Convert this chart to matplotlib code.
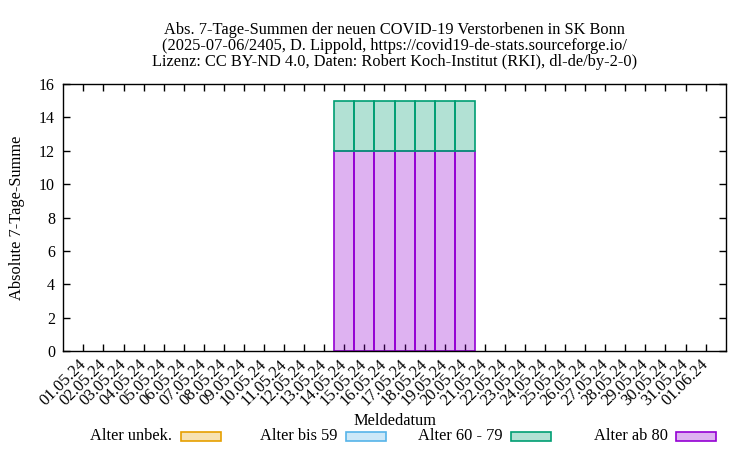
import matplotlib.pyplot as plt
import matplotlib.colors as mcolors
from matplotlib.patches import Rectangle
import numpy as np

plt.rcParams['font.family'] = ['Liberation Serif', 'DejaVu Serif']

# Meldedatum 01.05.24 .. 01.06.24
dates = ['%02d.05.24' % d for d in range(1, 32)] + ['01.06.24']
# 7-Tage-Summen je Altersgruppe
unbek = [0] * 32
bis59 = [0] * 32
a60_79 = [0] * 13 + [3] * 7 + [0] * 12
ab80 = [0] * 13 + [12] * 7 + [0] * 12

labels = ['Alter unbek.', 'Alter bis 59', 'Alter 60 - 79', 'Alter ab 80']
edges = ['#e69f00', '#56b4e9', '#009e73', '#9400d3']

W, H = 750, 450
fig = plt.figure(figsize=(7.5, 4.5), dpi=100)
ax = fig.add_axes([63.3 / W, 1 - 351 / H, (725.7 - 63.3) / W, (351 - 84) / H])

x = np.arange(len(dates))
series = [unbek, bis59, a60_79, ab80]
# stapeln: ab 80 unten, dann 60-79, bis 59, unbek.
cum = np.zeros(len(dates))
bot = {}
for i in [3, 2, 1, 0]:
    bot[i] = cum.copy()
    cum = cum + np.array(series[i])
for i in [0, 1, 2, 3]:
    v = np.array(series[i])
    fc = mcolors.to_rgba(edges[i], 0.3)
    ax.bar(x, v, width=1.0, bottom=bot[i], facecolor=fc,
           edgecolor=edges[i], linewidth=np.where(v > 0, 1.2, 0),
           zorder=2 + (3 - i) * 0.1)

ax.set_xlim(-1, len(dates))
ax.set_ylim(0, 16)
ax.set_yticks(range(0, 17, 2))
ax.set_xticks(x)
ax.set_xticklabels(dates, rotation=45, ha='right', va='center', rotation_mode='anchor', fontsize=12)
ax.tick_params(axis='both', direction='in', top=True, right=True, length=5, width=1)
ax.tick_params(axis='y', labelsize=11.5, pad=6)
ax.tick_params(axis='x', pad=8)
for sp in ax.spines.values():
    sp.set_linewidth(1.0)
    sp.set_zorder(5)

ax.set_ylabel('Absolute 7-Tage-Summe', fontsize=11.8, va='center')
ax.yaxis.set_label_coords((17 - 63.3) / (725.7 - 63.3), 0.5)
ax.set_xlabel('Meldedatum', fontsize=11.8)
ax.xaxis.set_label_coords(0.5, -(421 - 351) / (351 - 84))
ax.xaxis.label.set_va('center')
ax.set_title('Abs. 7-Tage-Summen der neuen COVID-19 Verstorbenen in SK Bonn\n'
             '(2025-07-06/2405, D. Lippold, https://covid19-de-stats.sourceforge.io/\n'
             'Lizenz: CC BY-ND 4.0, Daten: Robert Koch-Institut (RKI), dl-de/by-2-0)',
             fontsize=11.8, linespacing=1.0, pad=13)

# Legende wie gnuplot: Text rechtsbuendig vor dem Kaestchen
for i, lab in enumerate(labels):
    bx = 181 + 165 * i
    fig.text((bx - 8.5) / W, 1 - 436.5 / H, lab, ha='right', va='center', fontsize=11.8)
    fig.add_artist(Rectangle((bx / W, 1 - 441 / H), 40 / W, 9 / H, transform=fig.transFigure,
                             facecolor=mcolors.to_rgba(edges[i], 0.3), edgecolor=edges[i],
                             linewidth=1.2))

fig.savefig('out.png', dpi=100)
